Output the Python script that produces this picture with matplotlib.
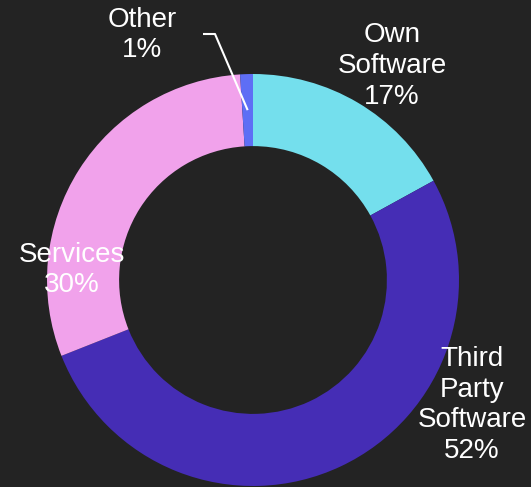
import numpy as np
import matplotlib.pyplot as plt

plt.rcParams['font.family'] = ['Liberation Sans', 'DejaVu Sans']

# revenue split
categories = ["Own\nSoftware", "Third\nParty\nSoftware", "Services", "Other"]
shares = [17, 52, 30, 1]
colors = ["#74dfed", "#452db5", "#f1a2eb", "#5e6ef5"]

bg = "#232323"
W, H = 531, 487
cx, cy, R = 253, H - 280, 206
hole = 0.65

fig = plt.figure(figsize=(W / 100, H / 100), dpi=100, facecolor=bg)
ax = fig.add_axes([0, 0, 1, 1])
ax.set_facecolor(bg)

wedges, _ = ax.pie(shares, colors=colors, startangle=90, counterclock=False,
                   center=(cx, cy), radius=R, frame=True,
                   wedgeprops=dict(width=R * (1 - hole), linewidth=0))
ax.set_xlim(0, W)
ax.set_ylim(0, H)
ax.set_aspect("equal")
ax.axis("off")

# label positions (pixels from top-left)
label_pos = [(392, 66), (472, 405), (72, 270), (142, 35)]
for name, val, (x, y) in zip(categories, shares, label_pos):
    ax.text(x, H - y, f"{name}\n{val}%", ha="center", va="center",
            color="white", fontsize=20, linespacing=1.24)

# leader line for the small slice
w = wedges[3]
mid = np.deg2rad((w.theta1 + w.theta2) / 2)
rmid = R * (1 + hole) / 2
ex, ey = cx + rmid * np.cos(mid), cy + rmid * np.sin(mid)
ax.plot([203, 215, ex], [H - 34, H - 34, ey], color="white", lw=1.5,
        solid_capstyle="butt")

fig.savefig("out.png", dpi=100, facecolor=bg)
